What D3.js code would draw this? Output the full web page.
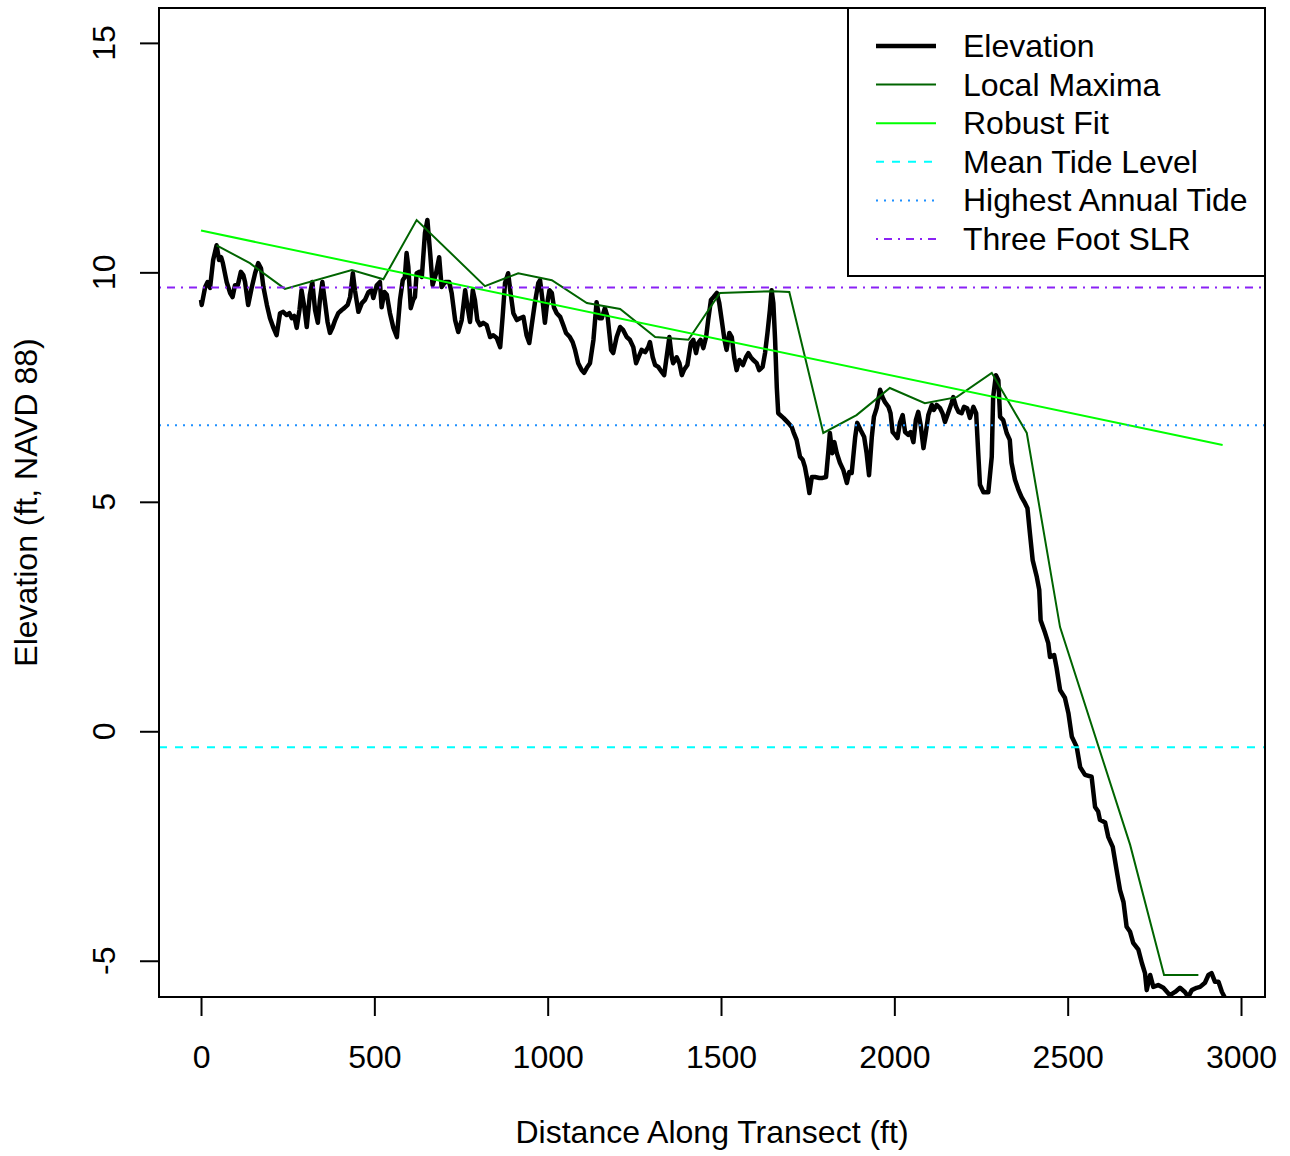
<!DOCTYPE html>
<html>
<head>
<meta charset="utf-8">
<script src="https://cdn.jsdelivr.net/npm/d3@7/dist/d3.min.js"></script>
<style>
html,body{margin:0;padding:0;background:#fff;}
text{font-family:"Liberation Sans",Arial,Helvetica,sans-serif;}
</style>
</head>
<body>
<svg id="chart" width="1290" height="1156"></svg>
<script>
// ---- Data ----
const elevDist = [0,2,12,19,26,35,45,52,58,63,74,84,91,98,106,115,122,127,136,146,156,165,173,180,190,199,209,218,228,237,247,255,262,269,276,284,290,298,305,314,321,329,337,343,350,358,365,372,379,387,396,406,413,423,430,438,444,454,464,473,483,492,497,507,516,521,529,536,545,555,565,574,582,588,593,598,605,612,617,622,630,637,646,653,661,668,678,687,694,704,716,723,733,742,752,762,769,776,784,790,797,805,814,824,834,843,853,863,870,877,886,893,901,911,920,930,939,947,954,963,973,978,986,992,997,1005,1012,1018,1026,1036,1045,1053,1064,1072,1079,1088,1098,1105,1113,1122,1132,1141,1149,1156,1165,1173,1183,1189,1199,1209,1218,1228,1237,1247,1255,1262,1271,1281,1290,1295,1303,1310,1319,1329,1336,1343,1351,1358,1362,1372,1380,1387,1393,1403,1413,1420,1428,1434,1441,1449,1457,1463,1471,1478,1488,1495,1502,1510,1516,1524,1531,1538,1545,1553,1563,1572,1579,1586,1593,1603,1610,1620,1627,1634,1641,1646,1651,1656,1661,1665,1680,1694,1704,1709,1718,1728,1736,1742,1749,1755,1762,1771,1784,1793,1803,1810,1814,1821,1827,1834,1843,1853,1863,1870,1877,1887,1893,1903,1913,1920,1927,1935,1941,1949,1959,1966,1973,1983,1989,1995,2002,2009,2016,2024,2031,2040,2047,2055,2062,2069,2076,2084,2090,2098,2108,2114,2122,2132,2139,2146,2155,2165,2170,2178,2185,2194,2201,2210,2218,2228,2236,2242,2247,2257,2271,2281,2285,2293,2300,2305,2314,2324,2333,2338,2348,2358,2367,2377,2384,2391,2399,2411,2418,2422,2435,2444,2449,2461,2468,2478,2492,2502,2512,2526,2536,2550,2569,2579,2588,2593,2608,2617,2630,2641,2651,2661,2670,2680,2689,2704,2714,2723,2728,2738,2747,2761,2776,2795,2810,2824,2838,2848,2858,2872,2882,2896,2906,2915,2925,2935,2945,2954];
const elevValue = [9.40,9.29,9.68,9.79,9.66,10.27,10.59,10.27,10.33,10.20,9.79,9.55,9.46,9.72,9.72,10.01,9.94,9.79,9.29,9.66,9.98,10.20,10.09,9.68,9.29,9.00,8.79,8.63,9.11,9.14,9.07,9.11,9.00,9.05,8.79,9.18,9.61,9.24,8.81,9.51,9.79,9.18,8.90,9.40,9.79,9.33,8.92,8.68,8.79,8.96,9.11,9.18,9.22,9.29,9.46,9.98,9.61,9.14,9.33,9.40,9.57,9.61,9.44,9.72,9.79,9.24,9.57,9.51,9.11,8.79,8.59,9.40,9.83,9.90,10.42,10.12,9.22,9.40,9.46,9.98,10.01,9.90,10.86,11.14,10.42,9.72,9.98,10.33,9.68,9.79,9.79,9.55,8.96,8.70,8.96,9.61,9.24,8.92,9.61,9.40,8.96,8.85,8.90,8.85,8.59,8.63,8.57,8.37,9.03,9.77,9.98,9.55,9.11,8.96,9.00,9.03,8.63,8.46,8.85,9.33,9.77,9.83,9.33,8.90,9.24,9.61,9.55,9.24,9.11,9.03,8.85,8.68,8.59,8.48,8.31,8.02,7.87,7.81,7.92,8.02,8.53,9.35,9.00,9.00,9.22,9.03,8.31,8.24,8.59,8.81,8.74,8.59,8.53,8.37,8.02,8.15,8.31,8.26,8.37,8.48,8.15,7.98,7.94,7.83,7.76,8.15,8.59,8.15,8.02,8.15,8.02,7.76,7.87,7.98,8.46,8.53,8.24,8.46,8.53,8.35,8.59,8.96,9.40,9.46,9.55,9.33,8.96,8.53,8.31,8.68,8.59,8.15,7.87,8.09,7.98,8.15,8.24,8.15,8.09,8.02,7.87,7.94,8.24,8.68,9.18,9.61,9.33,8.53,7.48,6.93,6.83,6.72,6.63,6.52,6.35,5.98,5.91,5.76,5.48,5.19,5.54,5.54,5.52,5.52,5.54,6.13,6.50,6.06,6.30,6.06,5.85,5.69,5.41,5.65,5.63,6.41,6.72,6.56,6.41,6.06,5.58,6.41,6.85,7.04,7.44,7.28,7.17,7.07,6.93,6.52,6.46,6.39,6.72,6.89,6.52,6.46,6.52,6.30,6.78,6.96,6.67,6.17,6.46,6.89,7.11,7.00,7.11,7.04,6.93,6.74,6.93,7.15,7.28,7.07,6.96,6.93,7.07,7.04,6.83,7.07,6.93,6.06,5.37,5.21,5.21,5.98,7.28,7.76,7.65,6.85,6.78,6.50,6.35,5.85,5.48,5.26,5.10,4.97,4.86,4.32,3.73,3.36,3.08,2.42,2.14,1.92,1.62,1.66,1.38,0.90,0.73,0.40,-0.12,-0.34,-0.78,-0.95,-0.99,-1.65,-1.75,-1.93,-1.99,-2.30,-2.52,-3.02,-3.46,-3.72,-4.26,-4.37,-4.61,-4.76,-5.05,-5.27,-5.64,-5.31,-5.57,-5.53,-5.59,-5.75,-5.68,-5.59,-5.68,-5.79,-5.64,-5.59,-5.57,-5.48,-5.31,-5.27,-5.46,-5.46,-5.68,-5.81];

const maxDist = [45,141,242,435,526,622,819,915,1012,1113,1209,1310,1406,1497,1651,1697,1795,1891,1987,2088,2180,2281,2382,2478,2680,2778,2877];
const maxValue = [10.59,10.20,9.64,10.05,9.85,11.14,9.70,9.98,9.83,9.33,9.20,8.59,8.53,9.55,9.59,9.57,6.50,6.89,7.48,7.15,7.28,7.81,6.50,2.27,-2.47,-5.31,-5.31];

const fitDist = [0, 2947];
const fitValue = [10.91, 6.24];

const meanTide = -0.35;
const highestAnnualTide = 6.67;
const threeFootSLR = 9.67;

const xTicks = [0,500,1000,1500,2000,2500,3000];
const yTicks = [-5,0,5,10,15];

const legendLabels = ["Elevation","Local Maxima","Robust Fit","Mean Tide Level","Highest Annual Tide","Three Foot SLR"];

// ---- Layout ----
const L = 159, R = 1265, T = 8, B = 997;
const FS = 32;
const svg = d3.select("#chart");

const x = d3.scaleLinear().domain([-121.2, 3069.2]).range([L, R]);
const y = d3.scaleLinear().domain([-5.79, 15.76]).range([B, T]);

svg.append("defs").append("clipPath").attr("id","clip")
  .append("rect").attr("x",L).attr("y",T).attr("width",R-L).attr("height",B-T);

const plot = svg.append("g").attr("clip-path","url(#clip)");

const styles = {
  elev: {color:"#000000", w:4.5, dash:null},
  max: {color:"#006400", w:2, dash:null},
  fit: {color:"#00FF00", w:2, dash:null},
  mean: {color:"#00FFFF", w:2, dash:"8,8"},
  hat: {color:"#1E90FF", w:2, dash:"2,6"},
  slr: {color:"#8A22F5", w:2, dash:"2,6,8,6"}
};

function hline(v, s){
  plot.append("line").attr("x1",L).attr("x2",R).attr("y1",y(v)).attr("y2",y(v))
    .attr("stroke",s.color).attr("stroke-width",s.w).attr("stroke-dasharray",s.dash);
}

const line = d3.line().x(d=>x(d[0])).y(d=>y(d[1]));

plot.append("path").datum(d3.zip(elevDist, elevValue)).attr("d", line)
  .attr("fill","none").attr("stroke",styles.elev.color).attr("stroke-width",styles.elev.w)
  .attr("stroke-linejoin","round");
plot.append("path").datum(d3.zip(maxDist, maxValue)).attr("d", line)
  .attr("fill","none").attr("stroke",styles.max.color).attr("stroke-width",styles.max.w);
plot.append("path").datum(d3.zip(fitDist, fitValue)).attr("d", line)
  .attr("fill","none").attr("stroke",styles.fit.color).attr("stroke-width",styles.fit.w);
hline(meanTide, styles.mean);
hline(highestAnnualTide, styles.hat);
hline(threeFootSLR, styles.slr);

// ---- Axes ----
const xAxis = d3.axisBottom(x).tickValues(xTicks).tickSize(19).tickSizeOuter(0).tickPadding(29)
  .tickFormat(d3.format("d"));
const gx = svg.append("g").attr("transform",`translate(0,${B})`).call(xAxis);
gx.select(".domain").attr("d", `M${x(xTicks[0])},0H${x(xTicks[xTicks.length-1])}`).attr("stroke","#000").attr("stroke-width",2);
gx.selectAll(".tick line").attr("stroke","#000").attr("stroke-width",2);
gx.selectAll(".tick text").attr("font-size",FS).attr("fill","#000")
  .attr("font-family","'Liberation Sans',Arial,sans-serif");

const yAxis = d3.axisLeft(y).tickValues(yTicks).tickSize(19).tickSizeOuter(0).tickFormat("");
const gy = svg.append("g").attr("transform",`translate(${L},0)`).call(yAxis);
gy.select(".domain").attr("d", `M0,${y(yTicks[0])}V${y(yTicks[yTicks.length-1])}`).attr("stroke","#000").attr("stroke-width",2);
gy.selectAll(".tick line").attr("stroke","#000").attr("stroke-width",2);
svg.append("g").selectAll("text").data(yTicks).join("text")
  .attr("transform", d=>`translate(115,${y(d)}) rotate(-90)`)
  .attr("text-anchor","middle").attr("font-size",FS).attr("fill","#000")
  .text(d=>d);

// Box
svg.append("rect").attr("x",L).attr("y",T).attr("width",R-L).attr("height",B-T)
  .attr("fill","none").attr("stroke","#000").attr("stroke-width",2);

// Titles
svg.append("text").attr("x",(L+R)/2).attr("y",1143).attr("text-anchor","middle")
  .attr("font-size",FS).text("Distance Along Transect (ft)");
svg.append("text").attr("transform",`translate(37,${(T+B)/2}) rotate(-90)`).attr("text-anchor","middle")
  .attr("font-size",FS).text("Elevation (ft, NAVD 88)");

// ---- Legend ----
const legX = 848, legY = 8, legW = R - 848, legH = 268;
const lg = svg.append("g");
lg.append("rect").attr("x",legX).attr("y",legY).attr("width",legW).attr("height",legH)
  .attr("fill","#fff").attr("stroke","#000").attr("stroke-width",2);
const legStyles = [styles.elev, styles.max, styles.fit, styles.mean, styles.hat, styles.slr];
legendLabels.forEach((lab,i)=>{
  const cy = 46 + i*38.6;
  const s = legStyles[i];
  lg.append("line").attr("x1",876).attr("x2",936).attr("y1",cy).attr("y2",cy)
    .attr("stroke",s.color).attr("stroke-width",s.w).attr("stroke-dasharray",s.dash);
  lg.append("text").attr("x",963).attr("y",cy+11).attr("font-size",FS).attr("fill","#000").text(lab);
});
</script>
</body>
</html>
